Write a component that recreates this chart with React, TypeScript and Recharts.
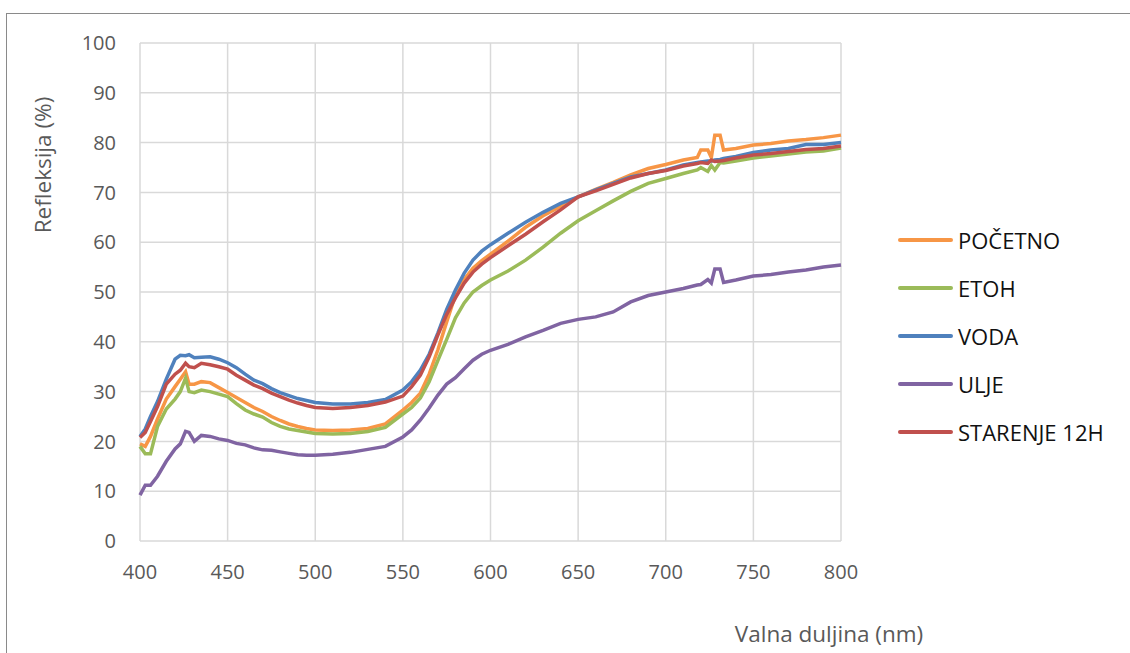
import React from "react";
import { LineChart, Line, XAxis, YAxis, CartesianGrid, Legend } from "recharts";

// wavelength (nm)
const wavelengths = [
  400, 403, 406, 410, 415, 420, 423, 426, 428, 431,
  435, 440, 445, 450, 455, 460, 465, 470, 475, 480,
  485, 490, 495, 500, 510, 520, 530, 540, 550, 555,
  560, 565, 570, 575, 580, 585, 590, 595, 600, 610,
  620, 630, 640, 650, 660, 670, 680, 690, 700, 710,
  718, 720, 724, 726, 728, 731, 733, 740, 750, 760,
  770, 780, 790, 800,
];

const pocetno = [
  19.5, 19, 21, 24.5, 28.5, 31, 32.5, 34, 31.5, 31.5,
  32, 31.8, 30.8, 29.8, 28.8, 27.8, 26.8, 26, 25, 24.2,
  23.5, 23, 22.6, 22.3, 22.2, 22.3, 22.6, 23.5, 26.3, 27.8,
  29.7, 33.5, 38.4, 44, 49.4, 52.5, 54.8, 56.3, 57.6, 60.2,
  63, 65.3, 67.2, 69.1, 70.6, 72, 73.5, 74.8, 75.6, 76.5,
  77, 78.5, 78.5, 77, 81.5, 81.5, 78.5, 78.8, 79.5, 79.8,
  80.3, 80.6, 81, 81.5,
];

const etoh = [
  19, 17.5, 17.5, 23, 26.5, 28.5, 30, 32.7, 30, 29.8,
  30.3, 30, 29.5, 29, 27.6, 26.3, 25.5, 24.9, 23.8, 23,
  22.5, 22.2, 21.9, 21.6, 21.5, 21.6, 22, 22.8, 25.5, 26.8,
  28.7, 32, 36.3, 40.5, 44.8, 47.8, 50, 51.3, 52.4, 54.2,
  56.4, 59, 61.8, 64.3, 66.3, 68.3, 70.2, 71.8, 72.8, 73.8,
  74.5, 75, 74.2, 75.4, 74.5, 76, 75.9, 76.3, 76.9, 77.3,
  77.7, 78.1, 78.3, 78.9,
];

const voda = [
  21, 22.5, 25, 28, 32.5, 36.5, 37.3, 37.2, 37.4, 36.8,
  36.9, 37, 36.5, 35.8, 34.8, 33.5, 32.3, 31.6, 30.6, 29.8,
  29.2, 28.6, 28.2, 27.8, 27.5, 27.5, 27.8, 28.4, 30.3, 32,
  34.3, 37.5, 41.8, 46.5, 50.4, 53.8, 56.4, 58.2, 59.5, 61.8,
  64, 66, 67.8, 69.1, 70.5, 71.8, 73.1, 73.8, 74.5, 75.5,
  76, 76.1, 76.3, 76.3, 76.5, 76.6, 76.8, 77.2, 78, 78.5,
  78.8, 79.6, 79.6, 80,
];

const ulje = [
  9.2, 11.2, 11.2, 13, 16, 18.5, 19.5, 22, 21.8, 20,
  21.2, 21, 20.5, 20.2, 19.6, 19.3, 18.7, 18.3, 18.2, 17.9,
  17.6, 17.3, 17.2, 17.2, 17.4, 17.8, 18.4, 19, 20.9, 22.3,
  24.3, 26.7, 29.3, 31.5, 32.8, 34.6, 36.3, 37.5, 38.3, 39.5,
  41, 42.3, 43.7, 44.5, 45, 46, 48, 49.3, 50, 50.7,
  51.4, 51.5, 52.5, 51.8, 54.6, 54.6, 51.9, 52.4, 53.2, 53.5,
  54, 54.4, 55, 55.4,
];

const starenje = [
  20.8, 21.8, 24, 27, 31.5, 33.5, 34.3, 35.7, 35, 34.8,
  35.7, 35.4, 35, 34.5, 33.3, 32.3, 31.3, 30.6, 29.7, 29,
  28.3, 27.7, 27.2, 26.8, 26.6, 26.8, 27.2, 27.9, 29.1, 31,
  33.3, 37, 41.4, 45.5, 48.8, 51.8, 54, 55.6, 56.9, 59.3,
  61.6, 64.1, 66.5, 69.1, 70.3, 71.6, 72.9, 73.8, 74.4, 75.3,
  75.8, 76, 75.8, 76.5, 76.2, 76.3, 76.4, 76.9, 77.5, 77.8,
  78.2, 78.6, 78.8, 79.3,
];

const xTicks = [400, 450, 500, 550, 600, 650, 700, 750, 800];
const yTicks = [0, 10, 20, 30, 40, 50, 60, 70, 80, 90, 100];

const series = [
  { key: "pocetno", name: "POČETNO", color: "#F79646", values: pocetno },
  { key: "etoh", name: "ETOH", color: "#9BBB59", values: etoh },
  { key: "voda", name: "VODA", color: "#4F81BD", values: voda },
  { key: "ulje", name: "ULJE", color: "#8064A2", values: ulje },
  { key: "starenje", name: "STARENJE 12H", color: "#C0504D", values: starenje },
];

const data = wavelengths.map((w, i) => {
  const row: Record<string, number> = { nm: w };
  series.forEach((s) => {
    row[s.key] = s.values[i];
  });
  return row;
});

const FONT = "'Open Sans', sans-serif";

function LegendBox() {
  return (
    <div style={{ fontFamily: FONT }}>
      {series.map((s) => (
        <div key={s.key} style={{ display: "flex", alignItems: "center", height: 48 }}>
          <div style={{ width: 55, height: 4, borderRadius: 2, background: s.color, marginRight: 5 }} />
          <span style={{ fontSize: 22, color: "#111" }}>{s.name}</span>
        </div>
      ))}
    </div>
  );
}

function YTitle(props: any) {
  const { viewBox } = props;
  const x = viewBox.x - 38;
  const y = viewBox.y + 122;
  return (
    <text
      x={x}
      y={y}
      transform={`rotate(-90, ${x}, ${y})`}
      textAnchor="middle"
      dominantBaseline="central"
      fill="#595959"
      fontSize={22.5}
      fontFamily={FONT}
    >
      Refleksija (%)
    </text>
  );
}

function XTitle(props: any) {
  const { viewBox } = props;
  return (
    <text
      x={viewBox.x + viewBox.width - 12}
      y={viewBox.y + 92}
      textAnchor="middle"
      dominantBaseline="central"
      fill="#595959"
      fontSize={22.5}
      fontFamily={FONT}
    >
      Valna duljina (nm)
    </text>
  );
}

export default function App() {
  return (
    <div
      style={{
        position: "absolute",
        left: 0,
        top: 0,
        width: 1130,
        height: 653,
        overflow: "hidden",
        background: "#fff",
      }}
    >
      <div
        style={{
          position: "absolute",
          left: 6,
          top: 13,
          width: 1140,
          height: 660,
          border: "1px solid #8a8a8a",
        }}
      />
      <div style={{ position: "absolute", left: 0, top: 0 }}>
        <LineChart
          width={1130}
          height={653}
          data={data}
          margin={{ top: 43, right: 59, bottom: 82, left: 80 }}
        >
          <CartesianGrid stroke="#d9d9d9" strokeWidth={1.5} />
          <XAxis
            dataKey="nm"
            type="number"
            domain={[400, 800]}
            ticks={xTicks}
            height={30}
            axisLine={false}
            tickLine={false}
            tickSize={0}
            tickMargin={24}
            tick={{ fill: "#595959", fontSize: 20, fontFamily: FONT }}
            label={<XTitle />}
          />
          <YAxis
            type="number"
            domain={[0, 100]}
            ticks={yTicks}
            width={60}
            axisLine={false}
            tickLine={false}
            tickSize={0}
            tickMargin={24}
            tick={{ fill: "#595959", fontSize: 20, fontFamily: FONT }}
            label={<YTitle />}
          />
          <Legend
            layout="vertical"
            align="right"
            verticalAlign="middle"
            content={<LegendBox />}
            wrapperStyle={{ left: 898, top: 216, width: 230 }}
          />
          {series.map((s) => (
            <Line
              key={s.key}
              type="linear"
              dataKey={s.key}
              name={s.name}
              stroke={s.color}
              strokeWidth={3.5}
              dot={false}
              activeDot={false}
              isAnimationActive={false}
            />
          ))}
        </LineChart>
      </div>
    </div>
  );
}
